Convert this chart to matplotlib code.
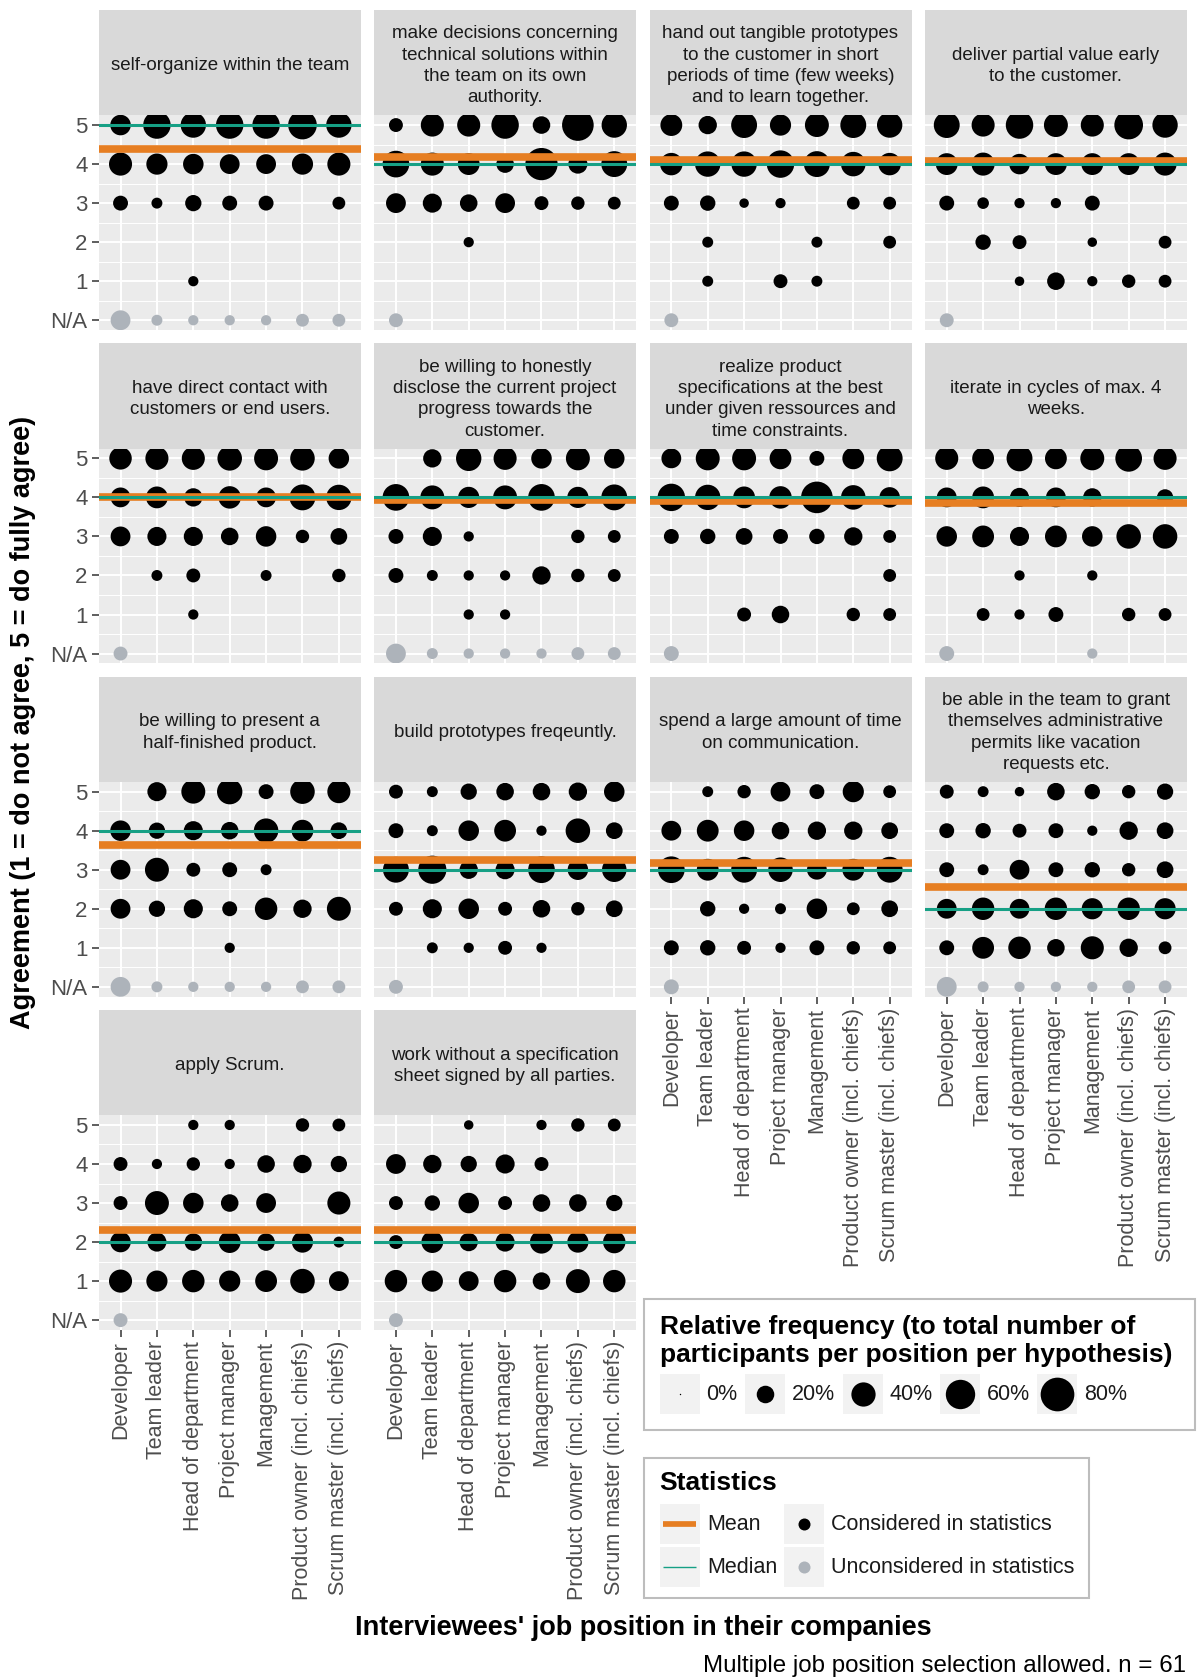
import numpy as np
import matplotlib
matplotlib.use("Agg")
import matplotlib.pyplot as plt
from matplotlib.patches import Rectangle

plt.rcParams['font.family'] = ['Liberation Sans', 'DejaVu Sans']

# ---- data (percent of participants per position, rows: 5, 4, 3, 2, 1, N/A) ----
positions = ['Developer', 'Team leader', 'Head of department', 'Project manager',
             'Management', 'Product owner (incl. chiefs)', 'Scrum master (incl. chiefs)']
level_labels = ['N/A', '1', '2', '3', '4', '5']
row_levels = [5, 4, 3, 2, 1, 0]   # 0 = N/A

hypotheses = [
    "self-organize within the team",
    "make decisions concerning\ntechnical solutions within\nthe team on its own\nauthority.",
    "hand out tangible prototypes\nto the customer in short\nperiods of time (few weeks)\nand to learn together.",
    "deliver partial value early\nto the customer.",
    "have direct contact with\ncustomers or end users.",
    "be willing to honestly\ndisclose the current project\nprogress towards the\ncustomer.",
    "realize product\nspecifications at the best\nunder given ressources and\ntime constraints.",
    "iterate in cycles of max. 4\nweeks.",
    "be willing to present a\nhalf-finished product.",
    "build prototypes freqeuntly.",
    "spend a large amount of time\non communication.",
    "be able in the team to grant\nthemselves administrative\npermits like vacation\nrequests etc.",
    "apply Scrum.",
    "work without a specification\nsheet signed by all parties.",
]

self_organize = [[28, 52, 44, 52, 52, 57, 44],
                 [36, 30, 28, 26, 26, 30, 36],
                 [14, 7, 17, 14, 14, 0, 10],
                 [0, 0, 0, 0, 0, 0, 0],
                 [0, 0, 6, 0, 0, 0, 0],
                 [26, 7, 6, 6, 6, 10, 10]]
make_decisions = [[12, 36, 36, 52, 20, 70, 44],
                  [49, 36, 32, 20, 73, 24, 46],
                  [26, 24, 20, 26, 12, 11, 10],
                  [0, 0, 6, 0, 0, 0, 0],
                  [0, 0, 0, 0, 0, 0, 0],
                  [12, 0, 0, 0, 0, 0, 0]]
hand_out_prototypes = [[32, 22, 46, 30, 39, 46, 44],
                       [34, 44, 44, 52, 46, 41, 34],
                       [14, 15, 5, 6, 0, 10, 10],
                       [0, 7, 0, 0, 7, 0, 10],
                       [0, 7, 0, 12, 7, 0, 0],
                       [12, 0, 0, 0, 0, 0, 0]]
deliver_value = [[46, 36, 52, 39, 36, 57, 44],
                 [32, 36, 28, 32, 32, 32, 36],
                 [14, 8, 6, 6, 14, 0, 0],
                 [0, 15, 12, 0, 5, 0, 10],
                 [0, 0, 5, 20, 6, 11, 10],
                 [12, 0, 0, 0, 0, 0, 0]]
direct_contact = [[34, 36, 36, 41, 39, 41, 28],
                  [26, 32, 22, 34, 26, 46, 44],
                  [26, 24, 24, 20, 28, 11, 18],
                  [0, 7, 12, 0, 7, 0, 11],
                  [0, 0, 6, 0, 0, 0, 0],
                  [12, 0, 0, 0, 0, 0, 0]]
disclose_progress = [[0, 22, 44, 36, 28, 39, 28],
                     [49, 39, 30, 39, 49, 30, 46],
                     [14, 24, 6, 0, 0, 11, 10],
                     [14, 7, 6, 6, 22, 11, 10],
                     [0, 0, 6, 6, 0, 0, 0],
                     [26, 7, 6, 6, 6, 10, 10]]
realize_specs = [[26, 39, 39, 32, 14, 32, 46],
                 [52, 44, 32, 34, 70, 41, 28],
                 [14, 15, 18, 14, 15, 22, 10],
                 [0, 0, 0, 0, 0, 0, 10],
                 [0, 0, 12, 20, 0, 11, 10],
                 [14, 0, 0, 0, 0, 0, 0]]
iterate_cycles = [[36, 32, 46, 32, 39, 49, 36],
                  [26, 32, 24, 26, 22, 0, 17],
                  [28, 32, 24, 32, 28, 41, 41],
                  [0, 0, 6, 0, 6, 0, 0],
                  [0, 10, 6, 14, 0, 11, 10],
                  [14, 0, 0, 0, 6, 0, 0]]
half_finished = [[0, 24, 39, 44, 14, 41, 36],
                 [28, 17, 24, 20, 41, 32, 18],
                 [26, 39, 12, 14, 7, 0, 0],
                 [26, 17, 24, 14, 34, 22, 39],
                 [0, 0, 0, 6, 0, 0, 0],
                 [26, 7, 6, 6, 6, 10, 10]]
build_prototypes = [[12, 7, 17, 20, 20, 22, 28],
                    [14, 7, 28, 32, 6, 41, 18],
                    [46, 55, 22, 24, 49, 28, 41],
                    [12, 24, 28, 12, 20, 11, 18],
                    [0, 7, 6, 12, 6, 0, 0],
                    [12, 0, 0, 0, 0, 0, 0]]
communication = [[0, 7, 11, 26, 14, 30, 10],
                 [26, 32, 28, 20, 22, 22, 18],
                 [49, 32, 46, 41, 26, 32, 46],
                 [0, 15, 6, 7, 28, 10, 18],
                 [14, 15, 12, 6, 14, 11, 10],
                 [14, 0, 0, 0, 0, 0, 0]]
admin_permits = [[12, 7, 5, 20, 15, 11, 17],
                 [14, 15, 12, 14, 6, 22, 18],
                 [14, 7, 26, 14, 15, 11, 18],
                 [26, 34, 26, 34, 30, 34, 30],
                 [14, 32, 34, 20, 36, 22, 10],
                 [26, 7, 6, 6, 6, 10, 10]]
apply_scrum = [[0, 0, 6, 6, 0, 11, 10],
               [12, 6, 11, 6, 20, 22, 17],
               [12, 39, 28, 20, 26, 0, 36],
               [28, 24, 20, 32, 20, 30, 7],
               [36, 30, 34, 30, 32, 41, 26],
               [12, 0, 0, 0, 0, 0, 0]]
no_spec_sheet = [[0, 0, 5, 0, 6, 11, 10],
                 [26, 22, 17, 24, 12, 0, 0],
                 [12, 15, 28, 12, 20, 20, 17],
                 [12, 32, 22, 24, 36, 30, 34],
                 [34, 30, 26, 34, 20, 39, 34],
                 [12, 0, 0, 0, 0, 0, 0]]

panels = [self_organize, make_decisions, hand_out_prototypes, deliver_value,
          direct_contact, disclose_progress, realize_specs, iterate_cycles,
          half_finished, build_prototypes, communication, admin_permits,
          apply_scrum, no_spec_sheet]
means = [4.39, 4.19, 4.11, 4.07, 4.02, 3.94, 3.90, 3.85, 3.63, 3.26, 3.17, 2.56, 2.31, 2.31]
medians = [5, 4, 4, 4, 4, 4, 4, 4, 4, 3, 3, 2, 2, 2]

legend_pcts = [0, 20, 40, 60, 80]

# ---- style ----
W, H, DPI = 1197, 1679, 100
ORANGE = '#E67E22'
TEAL = '#16A085'
GREY_PT = '#ADB3BA'
PANEL_BG = '#EBEBEB'
STRIP_BG = '#D9D9D9'


def dot_size(pct):
    # ggplot-like area scale: diameter grows with sqrt of value
    d_px = 1.4 + 32.3 * np.sqrt(np.asarray(pct, dtype=float) / 80.0)
    return (d_px * 72.0 / DPI) ** 2


fig = plt.figure(figsize=(W / DPI, H / DPI), dpi=DPI)


def px_axes(left, top, w, h):
    return fig.add_axes([left / W, 1 - (top + h) / H, w / W, h / H])


pw, ph, strip_h = 262, 214.7, 105.3
col_pitch, row_pitch = 275.4, 333.3
first_left, first_top = 98.7, 115.3
bottom_panels = {10, 11, 12, 13}

for i, data in enumerate(panels):
    r, c = divmod(i, 4)
    left = first_left + c * col_pitch
    top = first_top + r * row_pitch

    sax = px_axes(left, top - strip_h, pw, strip_h)
    sax.set_facecolor(STRIP_BG)
    sax.set_xticks([]); sax.set_yticks([])
    for s in sax.spines.values():
        s.set_visible(False)
    sax.text(0.5, 0.47, hypotheses[i], ha='center', va='center', fontsize=13.5,
             color='#1A1A1A', linespacing=1.33, transform=sax.transAxes)

    ax = px_axes(left, top, pw, ph)
    ax.set_facecolor(PANEL_BG)
    ax.set_xlim(0.4, 7.6)
    ax.set_ylim(-0.25, 5.25)
    ax.set_xticks(range(1, 8))
    ax.set_yticks(range(6))
    ax.set_yticks(np.arange(0.5, 5, 1), minor=True)
    ax.grid(which='major', color='white', lw=1.4)
    ax.grid(which='minor', axis='y', color='white', lw=0.7)
    ax.set_axisbelow(True)
    for s in ax.spines.values():
        s.set_visible(False)
    ax.tick_params(which='minor', length=0)
    ax.tick_params(which='major', length=5, width=1.1, color='#333333',
                   labelsize=15.5, labelcolor='#4D4D4D', pad=3)
    if c == 0:
        ax.set_yticklabels(level_labels, fontsize=16)
    else:
        ax.tick_params(axis='y', length=0, labelleft=False)
    if i in bottom_panels:
        ax.set_xticklabels(positions, rotation=90, va='top', ha='center')
    else:
        ax.tick_params(axis='x', length=0, labelbottom=False)

    xs, ys, ss, cs = [], [], [], []
    for row, lv in zip(data, row_levels):
        for k, p in enumerate(row):
            if p > 0:
                xs.append(k + 1)
                ys.append(lv)
                ss.append(dot_size(p))
                cs.append('black' if lv > 0 else GREY_PT)
    ax.scatter(xs, ys, s=ss, c=cs, linewidths=0, zorder=2)
    ax.axhline(means[i], color=ORANGE, lw=5.5, zorder=3)
    ax.axhline(medians[i], color=TEAL, lw=2.2, zorder=4)

# ---- overlay for titles and legends (pixel coordinates) ----
lay = fig.add_axes([0, 0, 1, 1])
lay.set_xlim(0, W)
lay.set_ylim(H, 0)
lay.axis('off')
lay.patch.set_alpha(0)

lay.text(642.9, 1628, "Interviewees' job position in their companies", ha='center',
         va='center', fontsize=19.5, fontweight='bold')
lay.text(23, 722, "Agreement (1 = do not agree, 5 = do fully agree)", ha='center',
         va='center', rotation=90, fontsize=19.5, fontweight='bold')
lay.text(1186, 1666, "Multiple job position selection allowed. n = 61", ha='right',
         va='center', fontsize=17.4)

# size legend
lay.add_patch(Rectangle((644.3, 1299), 551, 131, fill=False, ec='#BDBDBD', lw=1.5))
lay.text(659.5, 1341, "Relative frequency (to total number of\nparticipants per position per hypothesis)",
         ha='left', va='center', fontsize=19, fontweight='bold', linespacing=1.22)
key_lefts = [659.5, 745, 842.5, 940, 1037]
for kx, pct in zip(key_lefts, legend_pcts):
    lay.add_patch(Rectangle((kx, 1374), 40, 40, color='#F2F2F2', lw=0))
    lay.scatter([kx + 20], [1394], s=dot_size(pct), c='black', linewidths=0)
    lay.text(kx + 47, 1395, f"{pct}%", ha='left', va='center', fontsize=15.5, color='#1A1A1A')

# statistics legend
lay.add_patch(Rectangle((644.3, 1457.7), 445, 140, fill=False, ec='#BDBDBD', lw=1.5))
lay.text(659.5, 1483, "Statistics", ha='left', va='center', fontsize=19, fontweight='bold')
for ry in (1504, 1546.5):
    lay.add_patch(Rectangle((659.5, ry), 40, 40, color='#F2F2F2', lw=0))
    lay.add_patch(Rectangle((783.9, ry), 40, 40, color='#F2F2F2', lw=0))
lay.plot([663, 696], [1524, 1524], color=ORANGE, lw=4.1, solid_capstyle='butt')
lay.plot([663, 696], [1566.5, 1566.5], color=TEAL, lw=1.0, solid_capstyle='butt')
lay.scatter([803.9], [1524], s=(12 * 0.72) ** 2, c='black', linewidths=0)
lay.scatter([803.9], [1566.5], s=(12 * 0.72) ** 2, c=GREY_PT, linewidths=0)
lay.text(706.8, 1525, "Mean", ha='left', va='center', fontsize=15.5, color='#1A1A1A')
lay.text(706.8, 1567.5, "Median", ha='left', va='center', fontsize=15.5, color='#1A1A1A')
lay.text(830.8, 1525, "Considered in statistics", ha='left', va='center', fontsize=15.5, color='#1A1A1A')
lay.text(830.8, 1567.5, "Unconsidered in statistics", ha='left', va='center', fontsize=15.5, color='#1A1A1A')

fig.savefig('out.png', dpi=DPI)
